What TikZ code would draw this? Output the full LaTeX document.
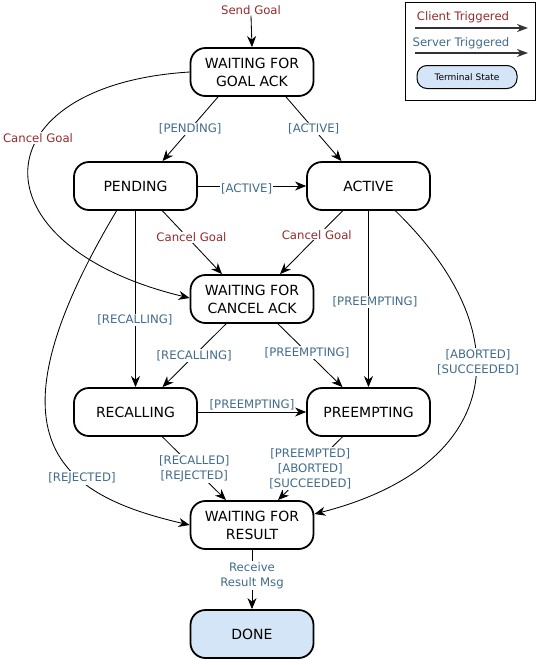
\documentclass[tikz,border=0pt]{standalone}
\usepackage{fontspec}
\setmainfont{DejaVu Sans}
\usetikzlibrary{arrows.meta,calc}
\definecolor{clientred}{HTML}{962B2B}
\definecolor{serverblue}{HTML}{416C8C}
\definecolor{termfill}{HTML}{D5E5F8}
\begin{document}
\begin{tikzpicture}[x=1pt,y=-1pt,
  state/.style={draw, line width=1.8pt, rounded corners=15pt, minimum width=123pt, minimum height=48pt, align=center, inner sep=0pt, font=\fontsize{14}{18}\selectfont},
  term/.style={state, fill=termfill},
  conn/.style={line width=0.85pt, -{Stealth[length=11pt,width=9pt,inset=3.5pt]}},
  clab/.style={text=clientred, font=\fontsize{11.7}{15}\selectfont, align=center, inner sep=1pt},
  slab/.style={text=serverblue, font=\fontsize{11.7}{15}\selectfont, align=center, inner sep=1pt},
  wbg/.style={fill=white}]
\useasboundingbox (0,0) rectangle (553,665);

% states
\node[state] (wfga) at (252,72) {WAITING FOR\\GOAL ACK};
\node[state] (pending) at (135.5,186) {PENDING};
\node[state] (active) at (368.5,186) {ACTIVE};
\node[state] (wfca) at (252,299) {WAITING FOR\\CANCEL ACK};
\node[state] (recalling) at (135.5,412) {RECALLING};
\node[state] (preempting) at (368.5,412) {PREEMPTING};
\node[state] (wfr) at (252,525) {WAITING FOR\\RESULT};
\node[term] (done) at (252,634) {DONE};

% send goal
\node[clab] (sendgoal) at (251,10) {Send Goal};
\draw[conn] (sendgoal.south) -- (wfga.north);

% from WAITING FOR GOAL ACK
\draw[conn] ($(wfga.south)+(-34,0)$) -- node[slab,wbg] {[PENDING]} ($(pending.north)+(27,0)$);
\draw[conn] ($(wfga.south)+(34,0)$) -- node[slab,wbg] {[ACTIVE]} ($(active.north)+(-27,0)$);
\draw[conn] (wfga.west) .. controls (-20,85) and (-30,245) .. ($(wfca.west)+(0,-1)$);
\node[clab,wbg] (cg1) at (38,138) {Cancel Goal};

% PENDING
\draw[conn] (pending.east) -- node[slab,wbg,pos=0.45,yshift=-3pt] {[ACTIVE]} (active.west);
\draw[conn] ($(pending.south)+(27,0)$) -- node[clab,wbg,pos=0.42,xshift=4pt] {Cancel Goal} ($(wfca.north)+(-30,0)$);
\draw[conn] (pending.south) -- (recalling.north);
\node[slab,wbg] (rc1) at (135,320) {[RECALLING]};
\draw[conn] ($(pending.south)+(-19,0)$) .. controls (-20,440) and (60,495) .. (wfr.west);
\node[slab,wbg] (rej1) at (82,478) {[REJECTED]};

% ACTIVE
\draw[conn] ($(active.south)+(-26,0)$) -- node[clab,wbg,pos=0.38,xshift=-2pt] {Cancel Goal} ($(wfca.north)+(28,0)$);
\draw[conn] (active.south) -- (preempting.north);
\node[slab,wbg] (pr1) at (375,302) {[PREEMPTING]};
\draw[conn] ($(active.south)+(27,0)$) .. controls (528,340) and (495,468) .. (wfr.10);
\node[slab,wbg] (abs1) at (478,362) {{[ABORTED]}\\{[SUCCEEDED]}};

% WAITING FOR CANCEL ACK
\draw[conn] ($(wfca.south)+(-26,0)$) -- node[slab,wbg] {[RECALLING]} ($(recalling.north)+(27,0)$);
\draw[conn] ($(wfca.south)+(26,0)$) -- node[slab,wbg,pos=0.45] {[PREEMPTING]} ($(preempting.north)+(-26,0)$);

% RECALLING / PREEMPTING
\draw[conn] (recalling.east) -- node[slab,above,yshift=1pt] {[PREEMPTING]} (preempting.west);
\draw[conn] ($(recalling.south)+(27,0)$) -- node[slab,wbg] {{[RECALLED]}\\{[REJECTED]}} ($(wfr.north)+(-26,0)$);
\draw[conn] ($(preempting.south)+(-26,0)$) -- node[slab,wbg] {{[PREEMPTED]}\\{[ABORTED]}\\{[SUCCEEDED]}} ($(wfr.north)+(26,0)$);

% result
\draw[conn] (wfr.south) -- node[slab,wbg,pos=0.43] {Receive\\Result Msg} (done.north);

% legend
\node[draw, line width=1pt, minimum width=130pt, minimum height=98pt, inner sep=0pt] (legend) at (470,51) {};
\node[clab] (lclient) at (463,17) {Client Triggered};
\coordinate (lc1) at (415,28);
\coordinate (lc2) at (528,28);
\draw[line width=1.4pt, draw=black!80, -{Stealth[length=11pt,width=8pt,inset=3.5pt]}] (lc1) -- (lc2);
\node[slab] (lserver) at (461,43) {Server Triggered};
\coordinate (ls1) at (415,53);
\coordinate (ls2) at (528,53);
\draw[line width=1.4pt, draw=black!80, -{Stealth[length=11pt,width=8pt,inset=3.5pt]}] (ls1) -- (ls2);
\node[draw, fill=termfill, line width=1pt, rounded corners=10pt, minimum width=100pt, minimum height=23pt, inner sep=0pt, font=\fontsize{9}{11}\selectfont] (lterm) at (467,77) {Terminal State};
\end{tikzpicture}
\end{document}
